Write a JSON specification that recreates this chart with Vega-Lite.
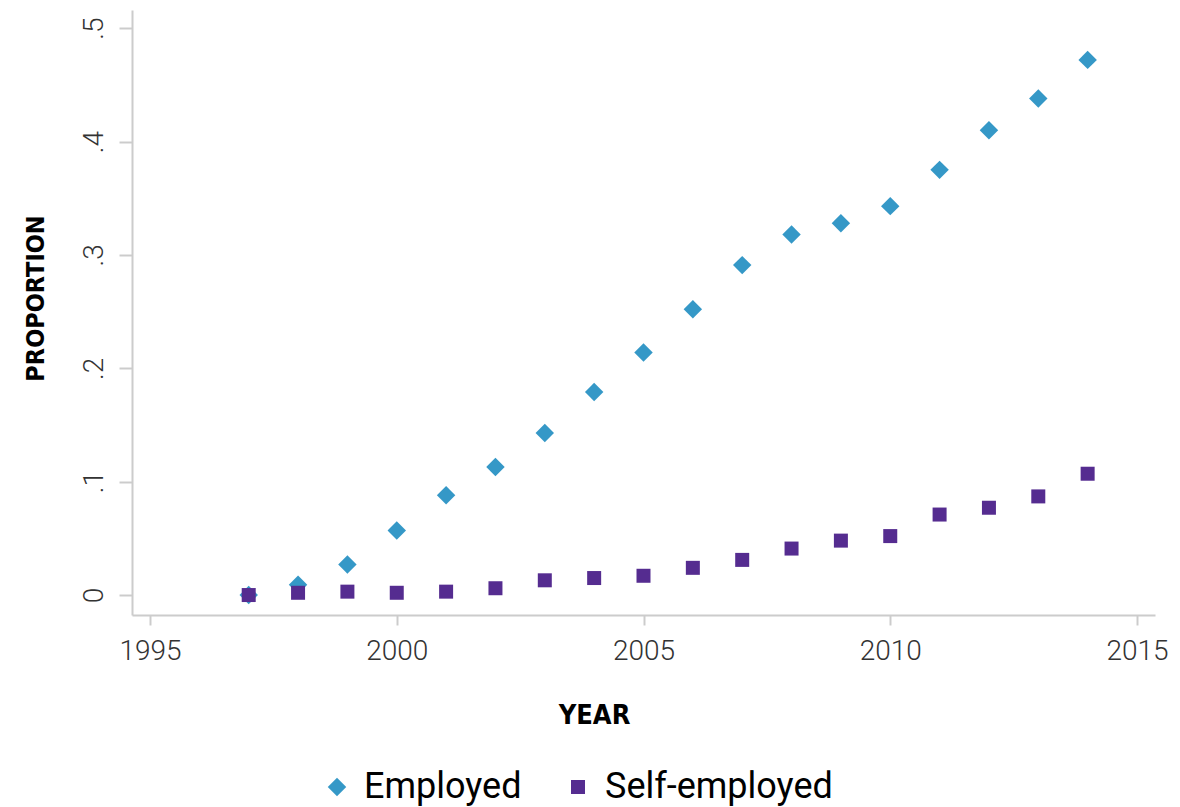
{
  "$schema": "https://vega.github.io/schema/vega-lite/v6.json",
  "width": 1023,
  "height": 605,
  "autosize": {"type": "none"},
  "padding": {"left": 132, "top": 10, "right": 25, "bottom": 192},
  "background": "white",
  "config": {"view": {"stroke": null}},
  "data": {
    "values": [
      {"year": 1997, "series": "Employed", "p": 0.0},
      {"year": 1998, "series": "Employed", "p": 0.009},
      {"year": 1999, "series": "Employed", "p": 0.027},
      {"year": 2000, "series": "Employed", "p": 0.057},
      {"year": 2001, "series": "Employed", "p": 0.088},
      {"year": 2002, "series": "Employed", "p": 0.113},
      {"year": 2003, "series": "Employed", "p": 0.143},
      {"year": 2004, "series": "Employed", "p": 0.179},
      {"year": 2005, "series": "Employed", "p": 0.214},
      {"year": 2006, "series": "Employed", "p": 0.252},
      {"year": 2007, "series": "Employed", "p": 0.291},
      {"year": 2008, "series": "Employed", "p": 0.318},
      {"year": 2009, "series": "Employed", "p": 0.328},
      {"year": 2010, "series": "Employed", "p": 0.343},
      {"year": 2011, "series": "Employed", "p": 0.375},
      {"year": 2012, "series": "Employed", "p": 0.41},
      {"year": 2013, "series": "Employed", "p": 0.438},
      {"year": 2014, "series": "Employed", "p": 0.472},
      {"year": 1997, "series": "Self-employed", "p": 0.0},
      {"year": 1998, "series": "Self-employed", "p": 0.002},
      {"year": 1999, "series": "Self-employed", "p": 0.003},
      {"year": 2000, "series": "Self-employed", "p": 0.002},
      {"year": 2001, "series": "Self-employed", "p": 0.003},
      {"year": 2002, "series": "Self-employed", "p": 0.006},
      {"year": 2003, "series": "Self-employed", "p": 0.013},
      {"year": 2004, "series": "Self-employed", "p": 0.015},
      {"year": 2005, "series": "Self-employed", "p": 0.017},
      {"year": 2006, "series": "Self-employed", "p": 0.024},
      {"year": 2007, "series": "Self-employed", "p": 0.031},
      {"year": 2008, "series": "Self-employed", "p": 0.041},
      {"year": 2009, "series": "Self-employed", "p": 0.048},
      {"year": 2010, "series": "Self-employed", "p": 0.052},
      {"year": 2011, "series": "Self-employed", "p": 0.071},
      {"year": 2012, "series": "Self-employed", "p": 0.077},
      {"year": 2013, "series": "Self-employed", "p": 0.087},
      {"year": 2014, "series": "Self-employed", "p": 0.107}
    ]
  },
  "mark": {"type": "point", "filled": true, "opacity": 1},
  "encoding": {
    "x": {
      "field": "year",
      "type": "quantitative",
      "scale": {"domain": [1994.635, 2015.365], "nice": false, "zero": false},
      "axis": {
        "title": "YEAR",
        "values": [1995, 2000, 2005, 2010, 2015],
        "format": "d",
        "grid": false,
        "domainColor": "#cccccc",
        "domainWidth": 2,
        "tickColor": "#cccccc",
        "tickWidth": 2,
        "tickSize": 10,
        "labelPadding": 12,
        "labelFont": "Roboto",
        "labelFontWeight": 300,
        "labelFontSize": 28,
        "labelColor": "#333333",
        "labelFlush": false,
        "titleFont": "DejaVu Sans Condensed",
        "titleFontWeight": "bold",
        "titleFontSize": 27,
        "titleColor": "#000000",
        "titleX": 462,
        "titleY": 100,
        "titleBaseline": "middle"
      }
    },
    "y": {
      "field": "p",
      "type": "quantitative",
      "scale": {"domain": [-0.0176, 0.516], "nice": false, "zero": false},
      "axis": {
        "title": "PROPORTION",
        "values": [0, 0.1, 0.2, 0.3, 0.4, 0.5],
        "labelExpr": "datum.value == 0 ? '0' : replace(format(datum.value, '.1f'), '0.', '.')",
        "grid": false,
        "domainColor": "#cccccc",
        "domainWidth": 2,
        "tickColor": "#cccccc",
        "tickWidth": 2,
        "tickSize": 13,
        "labelPadding": 11,
        "labelAngle": -90,
        "labelAlign": "center",
        "labelBaseline": "bottom",
        "labelFont": "Roboto",
        "labelFontWeight": 300,
        "labelFontSize": 28,
        "labelColor": "#333333",
        "labelFlush": false,
        "titleFont": "DejaVu Sans Condensed",
        "titleFontWeight": "bold",
        "titleFontSize": 25,
        "titleColor": "#000000",
        "titleX": -97,
        "titleY": 288,
        "titleAngle": -90,
        "titleBaseline": "middle"
      }
    },
    "color": {
      "field": "series",
      "type": "nominal",
      "scale": {"domain": ["Employed", "Self-employed"], "range": ["#3598c7", "#552c90"]},
      "legend": {
        "title": null,
        "orient": "none",
        "legendX": 187,
        "legendY": 759,
        "direction": "horizontal",
        "labelFont": "Roboto",
        "labelFontSize": 36,
        "labelLimit": 0,
        "labelOffset": 9,
        "columnPadding": 38,
        "symbolSize": 200,
        "encode": {
          "labels": {"update": {"fill": {"signal": "datum.value == 'Employed' ? '#3a9cca' : '#5e3898'"}}},
          "symbols": {"update": {"size": {"signal": "datum.value == 'Employed' ? 260 : 170"}}}
        }
      }
    },
    "shape": {
      "field": "series",
      "type": "nominal",
      "scale": {"domain": ["Employed", "Self-employed"], "range": ["diamond", "square"]}
    },
    "size": {
      "field": "series",
      "type": "nominal",
      "scale": {"domain": ["Employed", "Self-employed"], "range": [340, 196]},
      "legend": null
    }
  }
}
